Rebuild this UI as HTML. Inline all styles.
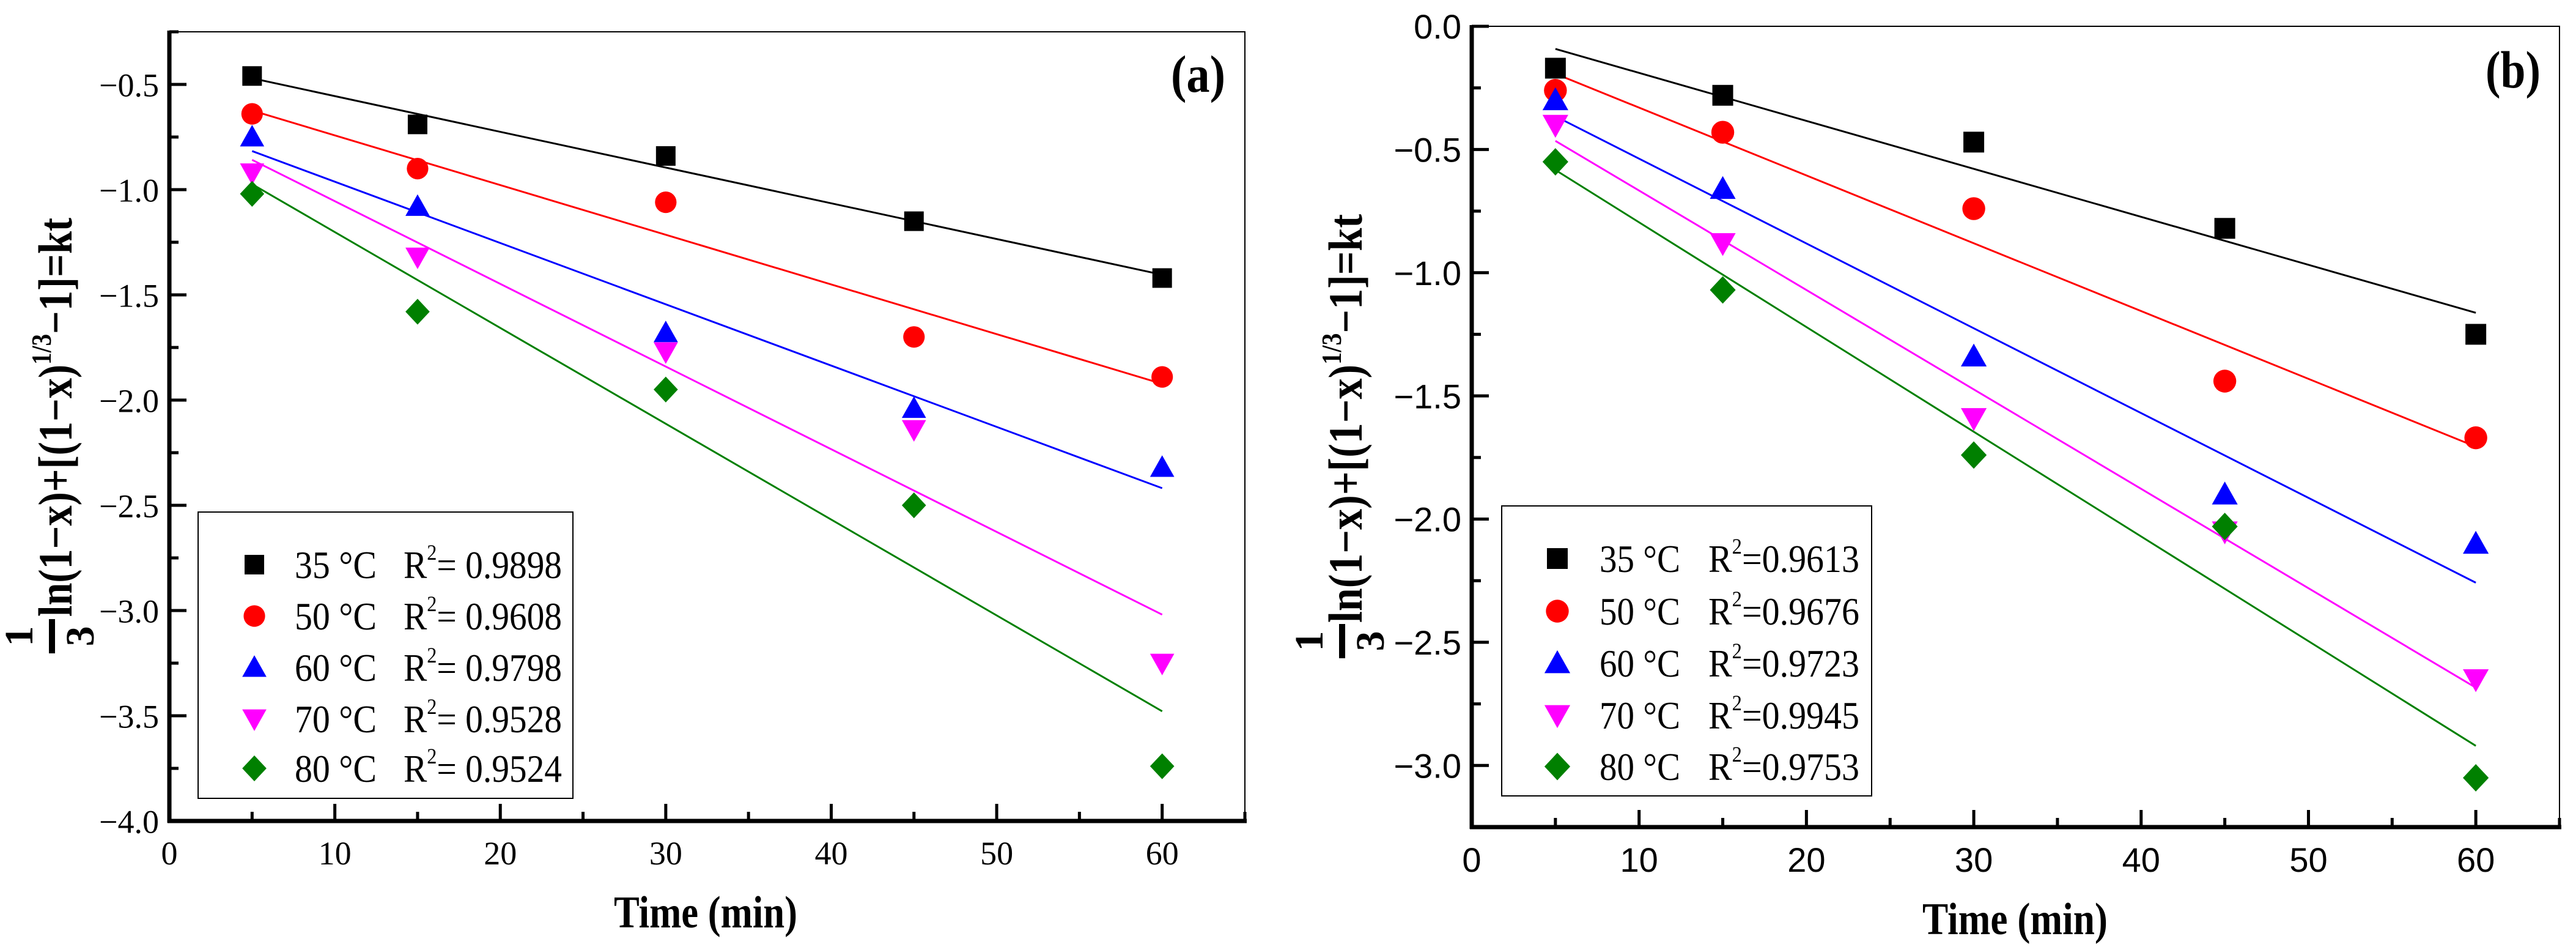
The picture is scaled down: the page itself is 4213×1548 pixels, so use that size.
<!DOCTYPE html>
<html><head><meta charset="utf-8"><style>
html,body{margin:0;padding:0;background:#fff}
svg{display:block}
text{font-family:"Liberation Serif",serif}
</style></head><body>
<svg id="fig" xmlns="http://www.w3.org/2000/svg" width="4213" height="1548" viewBox="0 0 4213 1548"></svg>
<script>
// ---- data ----
const times = [5, 15, 30, 45, 60];
const seriesNames = ["35 °C", "50 °C", "60 °C", "70 °C", "80 °C"];
const colors = ["#000000", "#ff0000", "#0000ff", "#ff00ff", "#008000"];
const markers = ["square", "circle", "up", "down", "diamond"];
const a35 = [-0.46, -0.69, -0.84, -1.15, -1.42];
const a50 = [-0.64, -0.90, -1.06, -1.70, -1.89];
const a60 = [-0.75, -1.08, -1.68, -2.04, -2.32];
const a70 = [-0.92, -1.32, -1.77, -2.14, -3.25];
const a80 = [-1.02, -1.58, -1.95, -2.50, -3.74];
const aR2 = ["0.9898", "0.9608", "0.9798", "0.9528", "0.9524"];
const b35 = [-0.17, -0.28, -0.47, -0.82, -1.25];
const b50 = [-0.26, -0.43, -0.74, -1.44, -1.67];
const b60 = [-0.30, -0.66, -1.34, -1.90, -2.10];
const b70 = [-0.40, -0.88, -1.59, -2.05, -2.65];
const b80 = [-0.55, -1.07, -1.74, -2.03, -3.05];
const bR2 = ["0.9613", "0.9676", "0.9723", "0.9945", "0.9753"];
const xTicks = [0, 10, 20, 30, 40, 50, 60];
const aYTicks = [-0.5, -1.0, -1.5, -2.0, -2.5, -3.0, -3.5, -4.0];
const bYTicks = [0.0, -0.5, -1.0, -1.5, -2.0, -2.5, -3.0];

const NS = "http://www.w3.org/2000/svg";
const svg = document.getElementById("fig");
function mk(tag, attrs, parent) {
  const e = document.createElementNS(NS, tag);
  for (const k in attrs) e.setAttribute(k, attrs[k]);
  (parent || svg).appendChild(e);
  return e;
}
function fit(xs, ys) {
  const n = xs.length; let mx = 0, my = 0;
  for (let i = 0; i < n; i++) { mx += xs[i]; my += ys[i]; }
  mx /= n; my /= n; let sxy = 0, sxx = 0;
  for (let i = 0; i < n; i++) { sxy += (xs[i]-mx)*(ys[i]-my); sxx += (xs[i]-mx)**2; }
  const s = sxy/sxx; return [s, my - s*mx];
}
function marker(g, type, cx, cy, col, sz) {
  let e;
  if (type === "square") e = mk("rect", {x: cx-sz/2, y: cy-sz/2, width: sz, height: sz, fill: col}, g);
  else if (type === "circle") e = mk("circle", {cx: cx, cy: cy, r: sz*0.55, fill: col}, g);
  else if (type === "up") e = mk("polygon", {points: `${cx},${cy-sz*0.62} ${cx-sz*0.62},${cy+sz*0.48} ${cx+sz*0.62},${cy+sz*0.48}`, fill: col}, g);
  else if (type === "down") e = mk("polygon", {points: `${cx},${cy+sz*0.62} ${cx-sz*0.62},${cy-sz*0.48} ${cx+sz*0.62},${cy-sz*0.48}`, fill: col}, g);
  else e = mk("polygon", {points: `${cx},${cy-sz*0.66} ${cx+sz*0.62},${cy} ${cx},${cy+sz*0.66} ${cx-sz*0.62},${cy}`, fill: col}, g);
  return e;
}

function panel(P) {
  const g = mk("g", {});
  
  
  const X = v => P.L + (v - P.xmin) / (P.xmax - P.xmin) * (P.R - P.L);
  const Y = v => P.B - (v - P.ymin) / (P.ymax - P.ymin) * (P.B - P.T);
  const fr = mk("rect", {x: P.L, y: P.T, width: P.R-P.L, height: P.B-P.T, fill: "none", stroke: "#000", "stroke-width": 2}, g);
  
  
  const xa = mk("line", {x1: P.L-3, y1: P.B, x2: P.R+3, y2: P.B, stroke: "#000", "stroke-width": 7}, g);
  
  
  const ya = mk("line", {x1: P.L, y1: P.T-2, x2: P.L, y2: P.B+3, stroke: "#000", "stroke-width": 7}, g);
  
  
  for (let v = 0; v <= P.xmax + 0.01; v += 5) {
    const maj = v % 10 === 0;
    const t = mk("line", {x1: X(v), y1: P.B, x2: X(v), y2: P.B - (maj ? 28 : 15), stroke: "#000", "stroke-width": 5}, g);
    
    
  }
  xTicks.forEach(v => {
    const t = mk("text", {x: X(v), y: P.xLabY, "text-anchor": "middle", "font-size": P.tickFs, style: "font-family:" + P.tickFont}, g);
    t.textContent = String(v);
    
    
  });
  for (let v = P.ymin; v <= P.ymax + 0.001; v += 0.25) {
    const maj = Math.abs(Math.round(v*2) - v*2) < 0.01;
    const t = mk("line", {x1: P.L, y1: Y(v), x2: P.L + (maj ? 28 : 15), y2: Y(v), stroke: "#000", "stroke-width": 5}, g);
    
    
  }
  P.yTicks.forEach(v => {
    const t = mk("text", {x: P.yLabX, y: Y(v) + P.tickFs*0.36, "text-anchor": "end", "font-size": P.tickFs, style: "font-family:" + P.tickFont}, g);
    t.textContent = v.toFixed(1).replace("-", "\u2212");
    
    
  });
  P.series.forEach((ys, i) => {
    const [s, b] = fit(times, ys);
    const ln = mk("line", {x1: X(5), y1: Y(s*5+b), x2: X(60), y2: Y(s*60+b), stroke: colors[i], "stroke-width": 3}, g);
    
    
  });
  P.series.forEach((ys, i) => {
    ys.forEach((v, j) => {
      const m = marker(g, markers[i], X(times[j]), Y(v), colors[i], P.msz);
      
      
    });
  });
  const lg = mk("g", {}, g);
  
  
  mk("rect", {x: P.lg.x, y: P.lg.y, width: P.lg.w, height: P.lg.h, fill: "#fff", stroke: "#000", "stroke-width": 2}, lg);
  P.series.forEach((ys, i) => {
    const ry = P.lg.rows[i];
    const e = mk("g", {}, lg);
    
    
    marker(e, markers[i], P.lg.mx, ry, colors[i], P.msz);
    const t1 = mk("text", {x: P.lg.tx, y: ry + 22, "font-size": 64, textLength: P.lg.t1w, lengthAdjust: "spacingAndGlyphs"}, e);
    t1.textContent = seriesNames[i];
    const t2 = mk("text", {x: P.lg.rx, y: ry + 22, "font-size": 64, textLength: P.lg.t2w, lengthAdjust: "spacingAndGlyphs"}, e);
    t2.innerHTML = 'R<tspan font-size="36" dy="-30">2</tspan><tspan dy="30">' + P.lg.eq + P.r2[i] + '</tspan>';
  });
  const pl = mk("text", {x: P.lab.x, y: P.lab.y, "font-size": 86, "font-weight": "bold", textLength: P.lab.w, lengthAdjust: "spacingAndGlyphs"}, g);
  pl.textContent = P.lab.t;
  
  
  const xt = mk("text", {x: P.xt.x, y: P.xt.y, "font-size": 74, "font-weight": "bold", textLength: P.xt.w, lengthAdjust: "spacingAndGlyphs"}, g);
  xt.textContent = "Time (min)";
  
  
  const yg = mk("g", {}, g);
  
  
  const bx = P.yt.bx;
  const yt = mk("text", {x: 0, y: 0, "font-size": 78, "font-weight": "bold", transform: `translate(${bx},${P.yt.y0}) rotate(-90)`, textLength: P.yt.len, lengthAdjust: "spacingAndGlyphs"}, yg);
  yt.innerHTML = 'ln(1\u2212x)+[(1\u2212x)<tspan font-size="46" dy="-34">1/3</tspan><tspan dy="34">\u22121]=kt</tspan>';
  mk("text", {x: 0, y: 0, "font-size": 66, "font-weight": "bold", "text-anchor": "middle", transform: `translate(${bx-64},${P.yt.fy}) rotate(-90)`}, yg).textContent = "1";
  mk("rect", {x: bx-37, y: P.yt.fy-28, width: 10, height: 56, fill: "#000"}, yg);
  mk("text", {x: 0, y: 0, "font-size": 66, "font-weight": "bold", "text-anchor": "middle", transform: `translate(${bx+36},${P.yt.fy}) rotate(-90)`}, yg).textContent = "3";
}

panel({id: "a", L: 277, R: 2036, T: 52, B: 1342, xmin: 0, xmax: 65, ymin: -4.0, ymax: -0.25,
  series: [a35, a50, a60, a70, a80], r2: aR2, yTicks: aYTicks,
  tickFs: 54, tickFont: "'Liberation Serif',serif", xLabY: 1413, yLabX: 260, msz: 32,
  lg: {x: 324, y: 837, w: 613, h: 468, rows: [923, 1007, 1091, 1175, 1256], mx: 416, tx: 482, t1w: 134, rx: 660, t2w: 259, eq: "= "},
  lab: {x: 1915, y: 150, w: 89, t: "(a)"},
  xt: {x: 1004, y: 1516, w: 300},
  yt: {bx: 117, y0: 1008, len: 652, fy: 1040}
});
panel({id: "b", L: 2407, R: 4186, T: 43, B: 1352, xmin: 0, xmax: 65, ymin: -3.25, ymax: 0,
  series: [b35, b50, b60, b70, b80], r2: bR2, yTicks: bYTicks,
  tickFs: 56, tickFont: "'Liberation Sans',sans-serif", xLabY: 1425, yLabX: 2390, msz: 34,
  lg: {x: 2456, y: 827, w: 605, h: 474, rows: [913, 999, 1084, 1169, 1253], mx: 2547, tx: 2616, t1w: 132, rx: 2794, t2w: 247, eq: "="},
  lab: {x: 4065, y: 143, w: 90, t: "(b)"},
  xt: {x: 3144, y: 1527, w: 303},
  yt: {bx: 2227, y0: 1018, len: 668, fy: 1048}
});
</script>
</body></html>
